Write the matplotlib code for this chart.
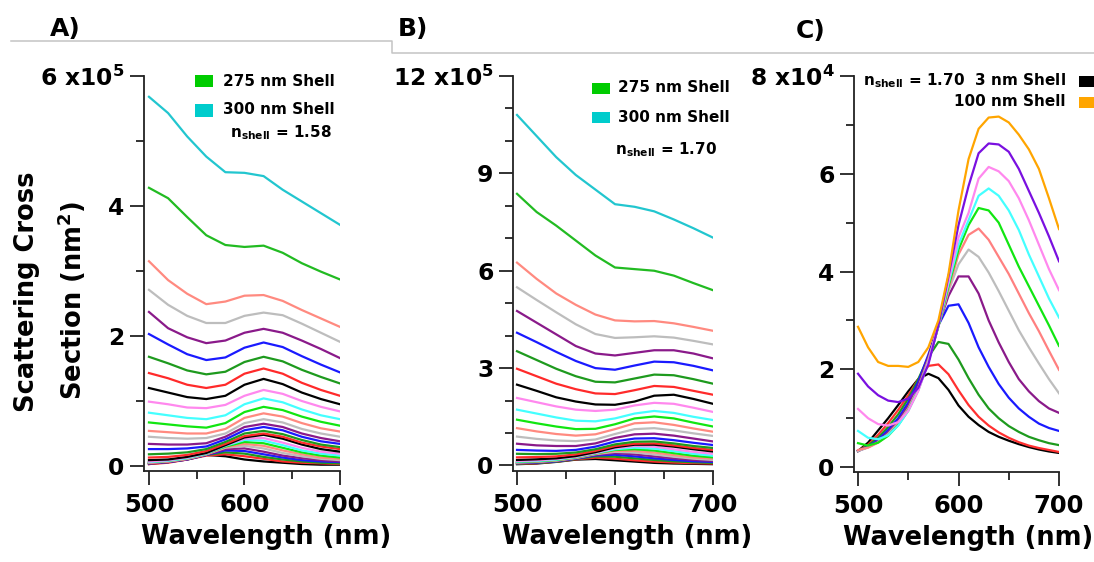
import numpy as np
import matplotlib
matplotlib.use('Agg')
import matplotlib.pyplot as plt
from matplotlib.lines import Line2D
from matplotlib.patches import Rectangle
from matplotlib.ticker import MultipleLocator

plt.rcParams['font.family'] = ['DejaVu Sans']
plt.rcParams['font.weight'] = 'bold'
plt.rcParams['mathtext.default'] = 'bf'

# wavelengths (nm)
wl_ab = [500, 520, 540, 560, 580, 600, 620, 640, 660, 680, 700]
wl_c = [500, 510, 520, 530, 540, 550, 560, 570, 580, 590, 600,
        610, 620, 630, 640, 650, 660, 670, 680, 690, 700]

# colours, from the top curve (300 nm shell) downwards
teal = '#22c6cf'
green275 = '#22bb22'
cycle = ['#ff8a80', '#bdbdbd', '#8a1a8a', '#1a1aff', '#1e9a1e',
         '#ff2a2a', '#000000', '#ff88ee', '#44ffff', '#11e611']
ab_colors = [teal, green275] + cycle + cycle + cycle[:7]

# panel A, n_shell = 1.58, units of 1e5 nm^2
a_curves = [
    [5.68, 5.43, 5.07, 4.76, 4.52, 4.51, 4.46, 4.25, 4.07, 3.89, 3.71],
    [4.28, 4.12, 3.83, 3.55, 3.40, 3.37, 3.39, 3.28, 3.12, 2.99, 2.87],
    [3.15, 2.86, 2.65, 2.49, 2.53, 2.62, 2.63, 2.54, 2.40, 2.27, 2.14],
    [2.71, 2.48, 2.31, 2.20, 2.20, 2.31, 2.36, 2.32, 2.19, 2.05, 1.91],
    [2.37, 2.12, 1.98, 1.89, 1.93, 2.05, 2.11, 2.05, 1.93, 1.80, 1.66],
    [2.03, 1.87, 1.72, 1.63, 1.67, 1.82, 1.90, 1.83, 1.69, 1.56, 1.44],
    [1.68, 1.58, 1.47, 1.41, 1.45, 1.60, 1.68, 1.61, 1.48, 1.37, 1.27],
    [1.43, 1.35, 1.25, 1.20, 1.25, 1.42, 1.50, 1.42, 1.28, 1.17, 1.08],
    [1.20, 1.13, 1.06, 1.03, 1.08, 1.25, 1.34, 1.26, 1.13, 1.03, 0.95],
    [0.99, 0.95, 0.90, 0.89, 0.94, 1.08, 1.17, 1.11, 1.00, 0.91, 0.84],
    [0.82, 0.78, 0.74, 0.72, 0.78, 0.95, 1.04, 0.98, 0.87, 0.78, 0.72],
    [0.67, 0.64, 0.61, 0.59, 0.66, 0.83, 0.91, 0.86, 0.76, 0.68, 0.62],
    [0.54, 0.52, 0.50, 0.50, 0.57, 0.74, 0.81, 0.76, 0.66, 0.58, 0.53],
    [0.45, 0.43, 0.42, 0.43, 0.50, 0.66, 0.72, 0.67, 0.57, 0.50, 0.45],
    [0.34, 0.33, 0.33, 0.35, 0.45, 0.60, 0.65, 0.60, 0.50, 0.43, 0.38],
    [0.26, 0.26, 0.27, 0.30, 0.41, 0.55, 0.60, 0.55, 0.45, 0.38, 0.34],
    [0.18, 0.19, 0.21, 0.26, 0.37, 0.50, 0.54, 0.49, 0.40, 0.33, 0.29],
    [0.13, 0.14, 0.17, 0.23, 0.34, 0.46, 0.50, 0.45, 0.36, 0.30, 0.26],
    [0.09, 0.10, 0.14, 0.20, 0.32, 0.44, 0.48, 0.42, 0.33, 0.26, 0.22],
    [0.07, 0.09, 0.13, 0.20, 0.32, 0.42, 0.43, 0.36, 0.28, 0.22, 0.19],
    [0.06, 0.08, 0.12, 0.19, 0.31, 0.40, 0.39, 0.32, 0.24, 0.19, 0.16],
    [0.06, 0.08, 0.12, 0.19, 0.30, 0.37, 0.35, 0.28, 0.21, 0.16, 0.13],
    [0.05, 0.07, 0.11, 0.18, 0.29, 0.34, 0.31, 0.24, 0.18, 0.13, 0.11],
    [0.05, 0.07, 0.11, 0.18, 0.28, 0.31, 0.27, 0.20, 0.15, 0.11, 0.09],
    [0.04, 0.06, 0.10, 0.17, 0.26, 0.27, 0.22, 0.16, 0.12, 0.09, 0.07],
    [0.04, 0.06, 0.10, 0.17, 0.24, 0.23, 0.18, 0.13, 0.09, 0.07, 0.06],
    [0.04, 0.06, 0.10, 0.17, 0.21, 0.19, 0.14, 0.10, 0.07, 0.05, 0.04],
    [0.03, 0.05, 0.10, 0.16, 0.18, 0.15, 0.11, 0.07, 0.05, 0.04, 0.03],
    [0.03, 0.06, 0.12, 0.17, 0.15, 0.10, 0.07, 0.05, 0.03, 0.02, 0.02],
]

# panel B, n_shell = 1.70, units of 1e5 nm^2
b_curves = [
    [10.80, 10.15, 9.50, 8.95, 8.50, 8.05, 7.97, 7.83, 7.58, 7.31, 7.02],
    [8.37, 7.81, 7.39, 6.93, 6.47, 6.10, 6.05, 6.00, 5.85, 5.62, 5.40],
    [6.25, 5.75, 5.30, 4.95, 4.65, 4.47, 4.44, 4.45, 4.38, 4.27, 4.15],
    [5.49, 5.10, 4.72, 4.35, 4.05, 3.93, 3.95, 3.98, 3.94, 3.84, 3.73],
    [4.76, 4.40, 4.04, 3.68, 3.45, 3.39, 3.47, 3.55, 3.55, 3.45, 3.30],
    [4.09, 3.80, 3.50, 3.22, 3.00, 2.95, 3.08, 3.20, 3.18, 3.07, 2.93],
    [3.52, 3.25, 2.98, 2.75, 2.58, 2.56, 2.68, 2.80, 2.78, 2.66, 2.52],
    [2.98, 2.75, 2.52, 2.35, 2.22, 2.20, 2.32, 2.45, 2.42, 2.30, 2.18],
    [2.49, 2.30, 2.10, 1.97, 1.88, 1.87, 1.97, 2.15, 2.18, 2.05, 1.90],
    [2.08, 1.95, 1.82, 1.72, 1.68, 1.72, 1.85, 1.93, 1.90, 1.78, 1.65],
    [1.72, 1.60, 1.48, 1.38, 1.36, 1.45, 1.60, 1.68, 1.62, 1.50, 1.40],
    [1.41, 1.30, 1.20, 1.12, 1.13, 1.27, 1.45, 1.51, 1.45, 1.32, 1.20],
    [1.15, 1.05, 0.97, 0.92, 0.96, 1.12, 1.30, 1.33, 1.25, 1.14, 1.04],
    [0.89, 0.82, 0.77, 0.75, 0.80, 0.97, 1.12, 1.15, 1.08, 0.99, 0.91],
    [0.67, 0.62, 0.60, 0.60, 0.68, 0.85, 0.96, 0.98, 0.92, 0.83, 0.74],
    [0.48, 0.46, 0.45, 0.48, 0.58, 0.74, 0.83, 0.84, 0.78, 0.70, 0.63],
    [0.36, 0.35, 0.36, 0.40, 0.50, 0.65, 0.73, 0.74, 0.68, 0.60, 0.54],
    [0.25, 0.26, 0.28, 0.34, 0.45, 0.60, 0.67, 0.68, 0.62, 0.54, 0.48],
    [0.17, 0.19, 0.22, 0.29, 0.41, 0.56, 0.64, 0.64, 0.58, 0.50, 0.43],
    [0.14, 0.16, 0.20, 0.27, 0.39, 0.53, 0.60, 0.58, 0.50, 0.42, 0.36],
    [0.12, 0.14, 0.18, 0.26, 0.38, 0.50, 0.55, 0.52, 0.44, 0.36, 0.30],
    [0.11, 0.13, 0.17, 0.25, 0.37, 0.48, 0.50, 0.46, 0.38, 0.30, 0.25],
    [0.10, 0.12, 0.16, 0.24, 0.36, 0.45, 0.45, 0.40, 0.32, 0.25, 0.21],
    [0.09, 0.11, 0.15, 0.23, 0.35, 0.42, 0.40, 0.34, 0.27, 0.21, 0.17],
    [0.08, 0.10, 0.14, 0.22, 0.33, 0.38, 0.34, 0.28, 0.22, 0.17, 0.14],
    [0.07, 0.09, 0.13, 0.21, 0.31, 0.33, 0.28, 0.22, 0.17, 0.13, 0.11],
    [0.06, 0.08, 0.12, 0.20, 0.28, 0.27, 0.22, 0.17, 0.13, 0.10, 0.08],
    [0.05, 0.07, 0.12, 0.19, 0.24, 0.21, 0.16, 0.12, 0.09, 0.07, 0.06],
    [0.04, 0.06, 0.11, 0.18, 0.20, 0.16, 0.12, 0.08, 0.06, 0.05, 0.04],
]

# panel C, thin shells (3 nm ... 100 nm), units of 1e4 nm^2
c_colors = ['#000000', '#ff3030', '#1e9a1e', '#1a1aff', '#8a1a8a', '#bdbdbd',
            '#ff8080', '#11e611', '#44ffff', '#ff88ee', '#7a10e0', '#ffa500']
c_curves = [
    [0.33, 0.50, 0.75, 1.00, 1.27, 1.55, 1.80, 1.91, 1.82, 1.58, 1.26, 1.03, 0.86, 0.72, 0.62, 0.54, 0.47, 0.41, 0.36, 0.32, 0.29],
    [0.33, 0.46, 0.66, 0.90, 1.17, 1.47, 1.80, 2.07, 2.10, 1.90, 1.57, 1.27, 1.03, 0.85, 0.71, 0.60, 0.51, 0.44, 0.39, 0.35, 0.31],
    [0.33, 0.44, 0.60, 0.82, 1.08, 1.40, 1.80, 2.25, 2.56, 2.52, 2.20, 1.82, 1.48, 1.20, 1.00, 0.84, 0.72, 0.62, 0.55, 0.49, 0.45],
    [0.33, 0.42, 0.56, 0.76, 1.00, 1.32, 1.75, 2.30, 2.90, 3.30, 3.33, 2.95, 2.45, 2.05, 1.70, 1.42, 1.20, 1.03, 0.89, 0.80, 0.74],
    [0.33, 0.41, 0.53, 0.71, 0.94, 1.25, 1.68, 2.25, 2.90, 3.50, 3.90, 3.90, 3.55, 3.00, 2.55, 2.15, 1.80, 1.55, 1.35, 1.20, 1.11],
    [0.33, 0.40, 0.51, 0.68, 0.90, 1.20, 1.62, 2.20, 2.88, 3.60, 4.15, 4.45, 4.30, 3.98, 3.60, 3.20, 2.80, 2.45, 2.12, 1.80, 1.51],
    [0.35, 0.40, 0.50, 0.66, 0.88, 1.18, 1.60, 2.17, 2.88, 3.65, 4.35, 4.75, 4.88, 4.65, 4.30, 3.95, 3.55, 3.15, 2.78, 2.38, 1.99],
    [0.49, 0.44, 0.50, 0.64, 0.86, 1.16, 1.58, 2.15, 2.88, 3.70, 4.45, 4.95, 5.30, 5.25, 5.00, 4.55, 4.10, 3.70, 3.30, 2.90, 2.48],
    [0.74, 0.60, 0.57, 0.65, 0.85, 1.15, 1.57, 2.15, 2.90, 3.75, 4.55, 5.05, 5.55, 5.70, 5.55, 5.25, 4.85, 4.35, 3.90, 3.45, 3.06],
    [1.19, 1.00, 0.88, 0.85, 0.92, 1.15, 1.56, 2.15, 2.92, 3.80, 4.70, 5.20, 5.90, 6.14, 6.05, 5.85, 5.50, 5.05, 4.55, 4.05, 3.62],
    [1.91, 1.65, 1.47, 1.36, 1.33, 1.40, 1.62, 2.10, 2.90, 3.90, 4.95, 5.75, 6.42, 6.62, 6.60, 6.45, 6.10, 5.65, 5.20, 4.72, 4.21],
    [2.87, 2.45, 2.15, 2.07, 2.07, 2.05, 2.15, 2.45, 3.00, 3.95, 5.25, 6.30, 6.92, 7.15, 7.17, 7.05, 6.80, 6.50, 6.10, 5.50, 4.87],
]

W, H = 1094, 562
fig = plt.figure(figsize=(W / 100, H / 100), dpi=100)


def add_ax(l, t, r, b):
    return fig.add_axes([l / W, 1 - b / H, (r - l) / W, (b - t) / H])


def style(ax, ymax, ymajor, ylabels, xlim_lo, ylim_lo, xlab_x):
    for s in ['top', 'right']:
        ax.spines[s].set_visible(False)
    for s in ['left', 'bottom']:
        ax.spines[s].set_linewidth(1.3)
        ax.spines[s].set_color('#222222')
    ax.set_xlim(xlim_lo, 700)
    ax.set_ylim(ylim_lo, ymax)
    ax.set_xticks([500, 600, 700])
    ax.xaxis.set_minor_locator(MultipleLocator(50))
    ax.set_yticks(np.arange(0, ymax + 0.1, ymajor), labels=ylabels)
    ax.yaxis.set_minor_locator(MultipleLocator(ymajor / (3 if ymajor == 3 else 2)))
    ax.tick_params(which='major', length=10, width=1.3, color='#222222')
    ax.tick_params(which='minor', length=6, width=1.3, color='#222222')
    ax.tick_params(axis='x', which='major', labelsize=17.5, pad=6)
    ax.tick_params(axis='y', which='major', labelsize=16.8, pad=4)
    ax.set_xlabel('Wavelength (nm)', fontsize=18.5, fontweight='bold')
    ax.xaxis.set_label_coords(xlab_x, -0.135)


# panel A
axA = add_ax(144, 76, 340, 471)
for vals, col in zip(a_curves[::-1], ab_colors[::-1]):
    axA.plot(wl_ab, vals, color=col, lw=1.6)
style(axA, 6, 2, ['0', '2', '4', '6 x10$^{5}$'], 494.8, -0.077, 0.622)

# panel B
axB = add_ax(513, 76, 713, 471)
for vals, col in zip(b_curves[::-1], ab_colors[::-1]):
    axB.plot(wl_ab, vals, color=col, lw=1.6)
style(axB, 12, 3, ['0', '3', '6', '9', '12 x10$^{5}$'], 495.9, -0.17, 0.57)

# panel C
axC = add_ax(854, 76, 1059, 472)
for vals, col in zip(c_curves, c_colors):
    axC.plot(wl_c, vals, color=col, lw=1.6)
style(axC, 8, 2, ['0', '2', '4', '6', '8 x10$^{4}$'], 496, -0.1, 0.556)


def ftext(x, y, s, **kw):
    fig.text(x / W, 1 - y / H, s, **kw)


def fbox(x0, y0, x1, y1, col):
    fig.add_artist(Rectangle((x0 / W, 1 - y1 / H), (x1 - x0) / W, (y1 - y0) / H,
                             transform=fig.transFigure, color=col, lw=0))


# y axis title
ftext(27, 292, 'Scattering Cross', rotation=90, ha='center', va='center',
      fontsize=18.5, fontweight='bold')
ftext(72, 300, 'Section (nm$^{2}$)', rotation=90, ha='center', va='center',
      fontsize=18.5, fontweight='bold')

# panel letters and the grey rules
ftext(65, 29, 'A)', ha='center', va='center', fontsize=18, fontweight='bold')
ftext(413, 29, 'B)', ha='center', va='center', fontsize=18, fontweight='bold')
ftext(811, 31, 'C)', ha='center', va='center', fontsize=18, fontweight='bold')
fig.add_artist(Line2D([11 / W, 392 / W, 392 / W, 1], [1 - 41 / H, 1 - 41 / H, 1 - 53 / H, 1 - 53 / H],
                      color='#c4c4c4', lw=1.1, transform=fig.transFigure))

# legends
fs = 11
fbox(195, 75, 213, 87, '#00cc00')
ftext(223, 81, '275 nm Shell', va='center', fontsize=fs, fontweight='bold')
fbox(195, 104, 213, 117, '#00cccc')
ftext(223, 110, '300 nm Shell', va='center', fontsize=fs, fontweight='bold')
ftext(230, 133, 'n$_{shell}$ = 1.58', va='center', fontsize=fs, fontweight='bold')

fbox(592, 83, 610, 94, '#00cc00')
ftext(618, 88, '275 nm Shell', va='center', fontsize=fs, fontweight='bold')
fbox(592, 112, 610, 123, '#00cccc')
ftext(618, 117, '300 nm Shell', va='center', fontsize=fs, fontweight='bold')
ftext(615, 150, 'n$_{shell}$ = 1.70', va='center', fontsize=fs, fontweight='bold')

ftext(1066, 81, 'n$_{shell}$ = 1.70  3 nm Shell', ha='right', va='center', fontsize=fs, fontweight='bold')
fbox(1079, 76, 1097, 87, '#000000')
ftext(1066, 102, '100 nm Shell', ha='right', va='center', fontsize=fs, fontweight='bold')
fbox(1079, 97, 1097, 108, '#ffa500')

fig.savefig('out.png', dpi=100)
